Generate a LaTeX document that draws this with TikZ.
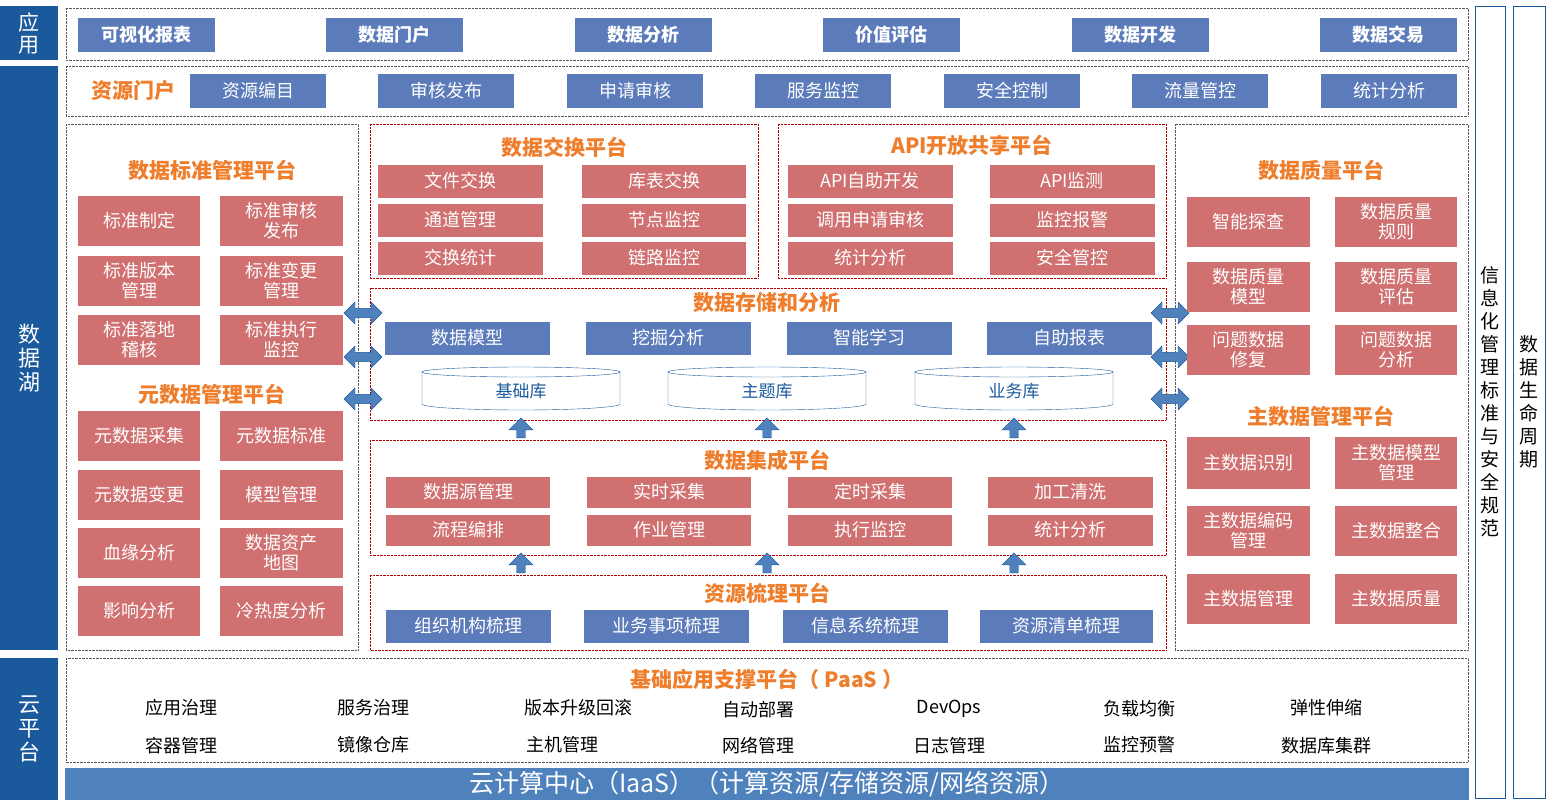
\documentclass[tikz,border=0pt]{standalone}
\usepackage{fontspec}
\setmainfont{Noto Sans CJK SC}
\usetikzlibrary{shapes.arrows}
\definecolor{bbox}{HTML}{5B7BBA}
\definecolor{rbox}{HTML}{D07070}
\definecolor{orng}{HTML}{EE7D2C}
\definecolor{dkb}{HTML}{1A5A9C}
\definecolor{iaas}{HTML}{4F81BD}
\tikzstyle{bx}=[fill=bbox,text=white,inner sep=0pt,font=\fontsize{18}{20}\selectfont]
\tikzstyle{rx}=[fill=rbox,text=white,inner sep=0pt,align=center,font=\fontsize{18}{20}\selectfont]
\tikzstyle{ttl}=[text=orng,font=\bfseries\fontsize{21}{23}\selectfont]
\tikzstyle{frm}=[draw=gray!70!black,densely dotted,thin]
\tikzstyle{frr}=[draw=red!70!black,densely dotted,thin]
\tikzstyle{side}=[fill=dkb,text=white,align=center,font=\fontsize{22}{24}\selectfont]
\tikzstyle{itm}=[font=\fontsize{18}{20}\selectfont]
\tikzstyle{upar}=[single arrow,fill=iaas,draw=dkb,shape border rotate=90,minimum height=20pt,minimum width=24pt,single arrow head extend=4pt,inner sep=2pt]
\tikzstyle{lrar}=[double arrow,fill=iaas,draw=dkb,minimum height=38pt,minimum width=22pt,double arrow head extend=3pt,inner sep=2pt]
\newcommand{\bxx}[7]{\node[#1,minimum width=#5pt,minimum height=#6pt] (#2) at (#3,#4) {#7};}
\begin{document}
\begin{tikzpicture}[x=1pt,y=-1pt]
\useasboundingbox (0,0) rectangle (1549,800);
% side bars
\node[side,minimum width=58pt,minimum height=54pt,font=\fontsize{21}{22}\selectfont] (app) at (29,33) {应\\用};
\node[side,minimum width=58pt,minimum height=584pt] (lake) at (29,358) {数\\据\\湖};
\node[side,minimum width=58pt,minimum height=142pt] (cloud) at (29,729) {云\\平\\台};
\draw[dkb,thin] (1475,6) rectangle (1505,798);
\draw[dkb,thin] (1513,6) rectangle (1545,798);
\node[align=center,font=\fontsize{19}{23}\selectfont] (std) at (1490,402) {信\\息\\化\\管\\理\\标\\准\\与\\安\\全\\规\\范};
\node[align=center,font=\fontsize{19}{23}\selectfont] (life) at (1529,402) {数\\据\\生\\命\\周\\期};
% frames
\draw[frm] (66,8) rectangle (1468,60);
\draw[frm] (66,66) rectangle (1468,116);
\draw[frm] (66,124) rectangle (358,650);
\draw[frm] (1175,124) rectangle (1468,650);
\draw[frr] (370,124) rectangle (758,278);
\draw[frr] (778,124) rectangle (1166,278);
\draw[frr] (370,288) rectangle (1166,420);
\draw[frr] (370,440) rectangle (1166,555);
\draw[frr] (370,575) rectangle (1166,650);
\draw[frm] (66,658) rectangle (1468,762);
% application row
\tikzstyle{ab}=[bx,font=\bfseries\fontsize{18}{20}\selectfont]
\bxx{ab}{a1}{146}{35}{137}{34}{可视化报表}
\bxx{ab}{a2}{394}{35}{137}{34}{数据门户}
\bxx{ab}{a3}{643}{35}{137}{34}{数据分析}
\bxx{ab}{a4}{891}{35}{137}{34}{价值评估}
\bxx{ab}{a5}{1140}{35}{137}{34}{数据开发}
\bxx{ab}{a6}{1388}{35}{137}{34}{数据交易}
% resource portal
\node[ttl] (portal) at (133,91) {资源门户};
\bxx{bx}{p1}{258}{91}{136}{34}{资源编目}
\bxx{bx}{p2}{446}{91}{136}{34}{审核发布}
\bxx{bx}{p3}{635}{91}{136}{34}{申请审核}
\bxx{bx}{p4}{823}{91}{136}{34}{服务监控}
\bxx{bx}{p5}{1012}{91}{136}{34}{安全控制}
\bxx{bx}{p6}{1200}{91}{136}{34}{流量管控}
\bxx{bx}{p7}{1389}{91}{136}{34}{统计分析}
% data standard
\node[ttl] (stdt) at (212,170) {数据标准管理平台};
\bxx{rx}{s1}{139}{221}{122}{50}{标准制定}
\bxx{rx}{s2}{281}{221}{123}{50}{标准审核\\发布}
\bxx{rx}{s3}{139}{281}{122}{50}{标准版本\\管理}
\bxx{rx}{s4}{281}{281}{123}{50}{标准变更\\管理}
\bxx{rx}{s5}{139}{340}{122}{50}{标准落地\\稽核}
\bxx{rx}{s6}{281}{340}{123}{50}{标准执行\\监控}
\node[ttl] (metat) at (212,394) {元数据管理平台};
\bxx{rx}{m1}{139}{436}{122}{50}{元数据采集}
\bxx{rx}{m2}{281}{436}{123}{50}{元数据标准}
\bxx{rx}{m3}{139}{495}{122}{50}{元数据变更}
\bxx{rx}{m4}{281}{495}{123}{50}{模型管理}
\bxx{rx}{m5}{139}{553}{122}{50}{血缘分析}
\bxx{rx}{m6}{281}{553}{123}{50}{数据资产\\地图}
\bxx{rx}{m7}{139}{611}{122}{50}{影响分析}
\bxx{rx}{m8}{281}{611}{123}{50}{冷热度分析}
% exchange
\node[ttl] (exct) at (564,147) {数据交换平台};
\bxx{rx}{e1}{460}{181}{165}{33}{文件交换}
\bxx{rx}{e2}{664}{181}{164}{33}{库表交换}
\bxx{rx}{e3}{460}{220}{165}{33}{通道管理}
\bxx{rx}{e4}{664}{220}{164}{33}{节点监控}
\bxx{rx}{e5}{460}{258}{165}{33}{交换统计}
\bxx{rx}{e6}{664}{258}{164}{33}{链路监控}
% api
\node[ttl] (apit) at (972,145) {API开放共享平台};
\bxx{rx}{i1}{870}{181}{165}{33}{API自助开发}
\bxx{rx}{i2}{1072}{181}{165}{33}{API监测}
\bxx{rx}{i3}{870}{220}{165}{33}{调用申请审核}
\bxx{rx}{i4}{1072}{220}{165}{33}{监控报警}
\bxx{rx}{i5}{870}{258}{165}{33}{统计分析}
\bxx{rx}{i6}{1072}{258}{165}{33}{安全管控}
% storage
\node[ttl] (stot) at (767,303) {数据存储和分析};
\bxx{bx}{d1}{467}{338}{165}{33}{数据模型}
\bxx{bx}{d2}{668}{338}{165}{33}{挖掘分析}
\bxx{bx}{d3}{869}{338}{165}{33}{智能学习}
\bxx{bx}{d4}{1069}{338}{165}{33}{自助报表}
\foreach \cx/\nm/\tx in {521/c1/基础库,767/c2/主题库,1014/c3/业务库}{
  \draw[dkb,fill=white] (\cx-99,372) -- (\cx-99,404) arc[start angle=180,end angle=0,x radius=99,y radius=6] -- (\cx+99,372);
  \draw[dkb] (\cx,372) ellipse[x radius=99,y radius=5];
  \node[text=dkb,font=\fontsize{17}{19}\selectfont] (\nm) at (\cx,391) {\tx};
}
% integration
\node[ttl] (intt) at (767,460) {数据集成平台};
\bxx{rx}{g1}{468}{492}{164}{31}{数据源管理}
\bxx{rx}{g2}{669}{492}{164}{31}{实时采集}
\bxx{rx}{g3}{870}{492}{164}{31}{定时采集}
\bxx{rx}{g4}{1070}{492}{165}{31}{加工清洗}
\bxx{rx}{g5}{468}{530}{164}{31}{流程编排}
\bxx{rx}{g6}{669}{530}{164}{31}{作业管理}
\bxx{rx}{g7}{870}{530}{164}{31}{执行监控}
\bxx{rx}{g8}{1070}{530}{165}{31}{统计分析}
% resource sorting
\node[ttl] (sort) at (767,593) {资源梳理平台};
\bxx{bx}{r1}{468}{626}{165}{33}{组织机构梳理}
\bxx{bx}{r2}{666}{626}{165}{33}{业务事项梳理}
\bxx{bx}{r3}{865}{626}{165}{33}{信息系统梳理}
\bxx{bx}{r4}{1066}{626}{173}{33}{资源清单梳理}
% arrows
\foreach \cx in {521,767,1014}{
  \node[upar] at (\cx,430) {};
  \node[upar] at (\cx,565) {};
}
\foreach \cy in {313,357,399}{
  \node[lrar] at (363,\cy) {};
  \node[lrar] at (1170,\cy) {};
}
% data quality
\node[ttl] (qual) at (1321,170) {数据质量平台};
\bxx{rx}{q1}{1248}{222}{123}{50}{智能探查}
\bxx{rx}{q2}{1396}{222}{122}{50}{数据质量\\规则}
\bxx{rx}{q3}{1248}{287}{123}{50}{数据质量\\模型}
\bxx{rx}{q4}{1396}{287}{122}{50}{数据质量\\评估}
\bxx{rx}{q5}{1248}{350}{123}{50}{问题数据\\修复}
\bxx{rx}{q6}{1396}{350}{122}{50}{问题数据\\分析}
\node[ttl] (mdm) at (1321,416) {主数据管理平台};
\bxx{rx}{k1}{1248}{463}{123}{52}{主数据识别}
\bxx{rx}{k2}{1396}{463}{122}{52}{主数据模型\\管理}
\bxx{rx}{k3}{1248}{531}{123}{50}{主数据编码\\管理}
\bxx{rx}{k4}{1396}{531}{122}{50}{主数据整合}
\bxx{rx}{k5}{1248}{599}{123}{50}{主数据管理}
\bxx{rx}{k6}{1396}{599}{122}{50}{主数据质量}
% paas
\node[ttl] (paas) at (767,679) {基础应用支撑平台（ PaaS ）};
\node[itm] (u1) at (181,708) {应用治理};
\node[itm] (u2) at (373,708) {服务治理};
\node[itm] (u3) at (578,708) {版本升级回滚};
\node[itm] (u4) at (758,710) {自动部署};
\node[itm] (u5) at (949,709) {DevOps};
\node[itm] (u6) at (1139,709) {负载均衡};
\node[itm] (u7) at (1326,708) {弹性伸缩};
\node[itm] (v1) at (181,746) {容器管理};
\node[itm] (v2) at (373,745) {镜像仓库};
\node[itm] (v3) at (562,745) {主机管理};
\node[itm] (v4) at (758,746) {网络管理};
\node[itm] (v5) at (949,746) {日志管理};
\node[itm] (v6) at (1139,745) {监控预警};
\node[itm] (v7) at (1326,746) {数据库集群};
% iaas
\node[fill=iaas,text=white,minimum width=1404pt,minimum height=32pt,inner sep=0pt,font=\fontsize{25}{27}\selectfont] (iaas) at (767,784) {云计算中心（IaaS）（计算资源/存储资源/网络资源）};
\end{tikzpicture}
\end{document}
